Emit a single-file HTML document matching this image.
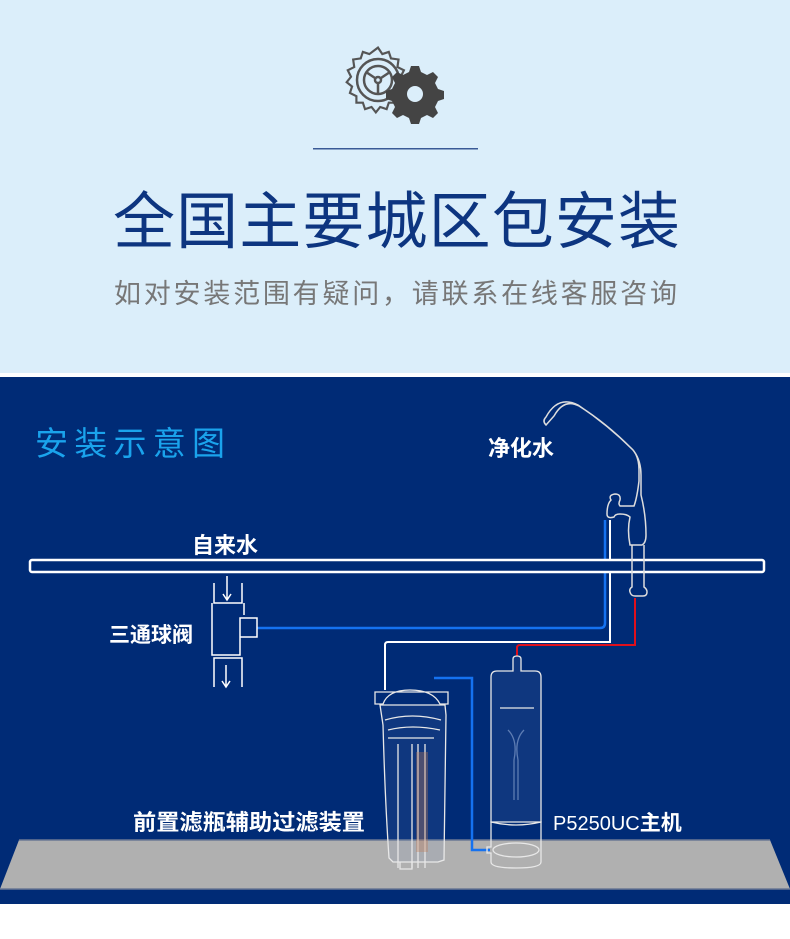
<!DOCTYPE html>
<html><head><meta charset="utf-8"><style>
body{margin:0;width:790px;height:939px;overflow:hidden;background:#fff;font-family:"Liberation Sans","Noto Sans CJK SC",sans-serif}
</style></head><body>
<svg width="790" height="939" viewBox="0 0 790 939" xmlns="http://www.w3.org/2000/svg" style="display:block">
<rect x="0" y="0" width="790" height="373" fill="#dbeefa"/>
<rect x="0" y="377" width="790" height="527" fill="#002b76"/>
<!-- gears -->
<g fill="none" stroke="#555" stroke-width="2.5">
<circle cx="378" cy="80" r="21"/>
<circle cx="378" cy="80" r="14"/>
<circle cx="378" cy="80" r="3"/>
<path d="M378 83 V94 M375 78 L366 72 M381 78 L390 72"/>
<path d="M378 50 l4 6 6-2 2 6 7 1-1 7 6 3-3 6 4 5-5 4 2 6-6 3 0 6-6 0-2 6-6-2-4 5-4-5-6 2-2-6-6 0 0-6-6-3 2-6-5-4 4-5-3-6 6-3-1-7 7-1 2-6 6 2z" transform="translate(378 80) scale(1.08) translate(-378 -80)" stroke-width="2"/>
</g>
<g fill="#444">
<path d="M411 66 h8 l2 6 6 3 6-3 5 5-3 6 3 6 6 2 v8 l-6 2-3 6 3 6-5 5-6-3-6 3-2 6 h-8 l-2-6-6-3-6 3-5-5 3-6-3-6-6-2 v-8 l6-2 3-6-3-6 5-5 6 3 6-3z"/>
</g>
<circle cx="415" cy="94" r="8" fill="#dbeefa"/>
<rect x="313" y="148" width="165" height="1.5" fill="#3a5a96"/>
<text x="113" y="243" font-size="62" fill="#0d3580" textLength="567" lengthAdjust="spacing">全国主要城区包安装</text>
<text x="114" y="303" font-size="27" fill="#777" textLength="563" lengthAdjust="spacing">如对安装范围有疑问，请联系在线客服咨询</text>
<text x="35" y="455" font-size="33" fill="#1aa3ec" textLength="190" lengthAdjust="spacing">安装示意图</text>
<!-- shelf -->
<polygon points="19,840 770,840 790,889 0,889" fill="#b0b0b0"/>
<line x1="19" y1="840" x2="770" y2="840" stroke="#6a7894" stroke-width="1.5"/>
<line x1="0" y1="889" x2="790" y2="889" stroke="#6a7894" stroke-width="1.5"/>
<!-- labels -->
<g fill="#fff" font-weight="bold" font-size="22">
<text x="192" y="553">自来水</text>
<text x="109" y="642" font-size="21">三通球阀</text>
<text x="488" y="456">净化水</text>
<text x="133" y="830" textLength="232" lengthAdjust="spacingAndGlyphs">前置滤瓶辅助过滤装置</text>
<text x="553" y="830" font-weight="normal" font-size="20">P5250UC<tspan font-weight="bold" font-size="21">主机</tspan></text>
</g>
<!-- pipes -->
<path d="M257 628 H600 q5 0 5-5 V520" fill="none" stroke="#1572f0" stroke-width="2.5"/>
<path d="M434 678 H472 V850 H490" fill="none" stroke="#1572f0" stroke-width="2.5"/>
<path d="M385 690 V645 q0-3 3-3 H610 V520" fill="none" stroke="#fff" stroke-width="2"/>
<path d="M517 656 V648 q0-3 3-3 H635 V598" fill="none" stroke="#e0101c" stroke-width="2"/>
<!-- main pipe -->
<rect x="30" y="560" width="734" height="12" rx="2" fill="#002b76" stroke="#fff" stroke-width="2.5"/>
<!-- tee -->
<g fill="none" stroke="#fff" stroke-width="1.5">
<path d="M214 583 V603 H242 V583"/>
<path d="M212 603 V655 H240 V618 H257 V637 H240"/>
<path d="M244 603 V615"/>
<path d="M214 687 V658 H242 V687"/>
<path d="M227 576 V600 M223 594 l4 6 4-6 M226 665 V687 M222 681 l4 6 4-6"/>
</g>
<!-- faucet -->
<g fill="none" stroke="#ddd" stroke-width="1.5">
<path d="M546 425 q-4-4 0-8 q12-22 32-12 q30 20 55 45 q8 10 8 25 V495 q5 20 5 40 q0 8-4 10 H630 q-3-15 0-28 q-3-3-10-3 q-5 0-6 3 q-7 2-7-3 q0-10 4-14 q-3-5 4-6 q6 0 5 6 q-2 4 0 6 h14 q3-8 5-25 V470 q0-15-8-22 q-25-25-52-42 q-15-8-25 10 z"/>
<path d="M632 545 V572 M644 545 V572 M632 572 V587 q-3 2-2 5 q1 4 5 4 h8 q4 0 4-4 q0-3-3-5 V572"/>
</g>
<!-- filter bottle -->
<g fill="none" stroke="#e8e8e8" stroke-width="1.3">
<path d="M375 692 H448 V704 L440 704 Q433 690 410 690 Q388 690 383 704 L375 704 Z"/>
<path d="M380 705 H445 L446 715 L444 860 L438 862 H393 L389 858 Q385 800 383 725 Z" fill="rgba(120,150,200,0.12)"/>
<path d="M385 720 Q412 712 441 720 M388 730 Q412 724 440 730 M388 738 H434"/>
<path d="M398 744 V868 M412 744 V868 M418 744 V868 M425 744 V868"/>
<path d="M400 862 v7 h12 v-7"/>
</g>
<rect x="416" y="752" width="12" height="100" fill="#c07a55" opacity="0.35"/>
<!-- main unit -->
<g fill="none" stroke="#e8e8e8" stroke-width="1.3">
<path d="M513 671 V659 q0-3 4-3 q4 0 4 3 V671 H535 q6 0 6 6 V822 H491 V677 q0-6 6-6 Z" fill="rgba(120,150,200,0.12)"/>
<path d="M500 708 H534"/>
<path d="M491 822 Q516 828 541 822 V862 q0 6-25 6 q-25 0-25-6 V853 H487 V847 H491 Z"/>
<ellipse cx="516" cy="850" rx="23" ry="7"/>
<path d="M508 730 Q518 740 514 760 V800 M524 730 Q514 740 518 760 V800" stroke="#5d7cb3"/>
</g>
</svg>
</body></html>
